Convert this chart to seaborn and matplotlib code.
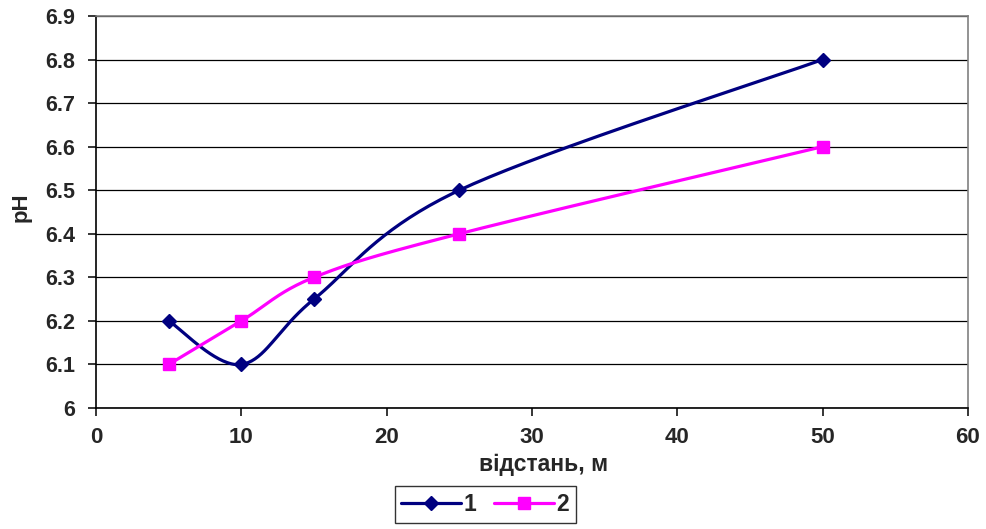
import numpy as np
import pandas as pd
import matplotlib
matplotlib.use("Agg")
import matplotlib.pyplot as plt
import seaborn as sns
from matplotlib.lines import Line2D

# Distance from source (m) and measured soil pH for two profiles
distance = [5, 10, 15, 25, 50]
ph_series1 = [6.2, 6.1, 6.25, 6.5, 6.8]
ph_series2 = [6.1, 6.2, 6.3, 6.4, 6.6]
series_names = ["1", "2"]
x_ticks = [0, 10, 20, 30, 40, 50, 60]
y_ticks = [6.0, 6.1, 6.2, 6.3, 6.4, 6.5, 6.6, 6.7, 6.8, 6.9]
y_tick_labels = ["6", "6.1", "6.2", "6.3", "6.4", "6.5", "6.6", "6.7", "6.8", "6.9"]


def smooth_curve(xs, ys, steps=40):
    """Cardinal (Catmull-Rom) Bezier smoothing through every point."""
    pts = np.column_stack([xs, ys]).astype(float)
    n = len(pts)
    out = [pts[0]]
    t = np.linspace(0, 1, steps)[1:, None]
    for i in range(n - 1):
        p0 = pts[max(i - 1, 0)]
        p1 = pts[i]
        p2 = pts[i + 1]
        p3 = pts[min(i + 2, n - 1)]
        c1 = p1 + (p2 - p0) / 6.0
        c2 = p2 - (p3 - p1) / 6.0
        seg = ((1 - t) ** 3) * p1 + 3 * ((1 - t) ** 2) * t * c1 + 3 * (1 - t) * t ** 2 * c2 + t ** 3 * p2
        out.extend(seg)
    out = np.array(out)
    return out[:, 0], out[:, 1]


sns.set_theme(style="white")
plt.rcParams["font.family"] = ["Liberation Sans", "DejaVu Sans"]
plt.rcParams["font.weight"] = "bold"

fig = plt.figure(figsize=(9.86, 5.29), dpi=100)
ax = fig.add_axes([0.0974, 0.2287, 0.8843, 0.7411])

colors = ["#000080", "#FF00FF"]
markers = ["D", "s"]
msizes = [7, 9]
handles = []
for name, vals, col, mk, ms in zip(series_names, [ph_series1, ph_series2], colors, markers, msizes):
    sx, sy = smooth_curve(distance, vals)
    curve = pd.DataFrame({"x": sx, "y": sy})
    sns.lineplot(data=curve, x="x", y="y", sort=False, color=col, linewidth=2.3, ax=ax,
                 estimator=None, zorder=3)
    pts = pd.DataFrame({"x": distance, "y": vals})
    ax.plot(pts["x"], pts["y"], linestyle="none", marker=mk, markersize=ms,
            color=col, markeredgecolor=col, zorder=4)
    handles.append(Line2D([0], [0], color=col, linewidth=2.3, marker=mk, markersize=ms,
                          markeredgecolor=col))

ax.set_xlim(0, 60)
ax.set_ylim(6.0, 6.9)
ax.set_xticks(x_ticks)
ax.set_xticklabels([str(v) for v in x_ticks])
ax.set_yticks(y_ticks)
ax.set_yticklabels(y_tick_labels)

ax.yaxis.grid(True, color="#000000", linewidth=0.9)
ax.xaxis.grid(False)
ax.set_axisbelow(True)

for side in ["left", "bottom"]:
    ax.spines[side].set_color("#000000")
    ax.spines[side].set_linewidth(1.2)
for side in ["top", "right"]:
    ax.spines[side].set_color("#808080")
    ax.spines[side].set_linewidth(1.2)

ax.tick_params(axis="both", which="major", direction="out", length=6, width=1.1,
               color="#000000", bottom=True, left=True)
ax.tick_params(axis="x", labelsize=16, pad=8)
ax.tick_params(axis="y", labelsize=15.5, pad=9)
for lbl in ax.get_xticklabels() + ax.get_yticklabels():
    lbl.set_fontweight("bold")

ax.set_xlabel("")
ax.set_ylabel("")
fig.text(0.551, 0.121, "відстань, м", fontsize=16.5, fontweight="bold",
         ha="center", va="center")
fig.text(0.021, 0.609, "pH", fontsize=16, fontweight="bold",
         ha="center", va="center", rotation=90)

leg = fig.legend(handles, series_names, loc="center", bbox_to_anchor=(0.492, 0.047),
                 ncol=2, frameon=True, fancybox=False, fontsize=16.5,
                 handlelength=2.6, handletextpad=0.1, columnspacing=0.8,
                 borderpad=0.3)
leg.get_frame().set_edgecolor("#000000")
leg.get_frame().set_linewidth(1.0)
for txt in leg.get_texts():
    txt.set_fontweight("bold")

fig.savefig("out.png", dpi=100)
